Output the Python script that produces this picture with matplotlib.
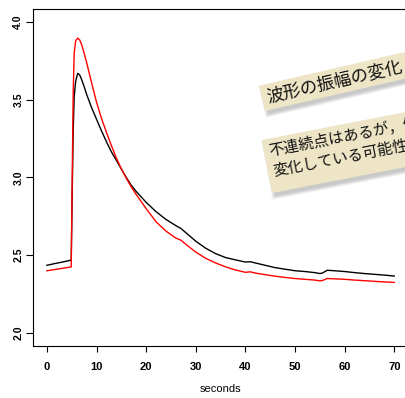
import matplotlib
matplotlib.use("Agg")
import matplotlib.pyplot as plt
from matplotlib.patches import Rectangle
from matplotlib.transforms import Affine2D

# signal (seconds vs amplitude)
seconds = [0, 1, 2, 3, 4, 4.9, 5.1, 5.3, 5.5, 5.8, 6.2, 6.6, 7, 7.5, 8, 9, 10, 11, 12,
           13, 14, 15, 16, 17, 18, 20, 22, 24, 26, 27, 28, 30, 32, 34, 36, 38, 40,
           41, 42, 44, 46, 48, 50, 52, 54, 55, 55.5, 56.5, 58, 60, 62, 64, 66, 68, 70]
black_vals = [2.435, 2.442, 2.449, 2.455, 2.462, 2.468, 2.90, 3.30, 3.52, 3.62, 3.67, 3.66,
              3.63, 3.585, 3.535, 3.45, 3.375, 3.30, 3.23, 3.165, 3.11, 3.055, 3.00, 2.95,
              2.91, 2.84, 2.78, 2.73, 2.69, 2.672, 2.645, 2.59, 2.545, 2.51, 2.485, 2.47,
              2.456, 2.458, 2.45, 2.435, 2.42, 2.41, 2.40, 2.395, 2.388, 2.382, 2.385,
              2.403, 2.40, 2.395, 2.388, 2.382, 2.377, 2.372, 2.366]
red_vals = [2.40, 2.405, 2.41, 2.415, 2.42, 2.425, 3.00, 3.55, 3.80, 3.88, 3.897, 3.885,
            3.855, 3.80, 3.74, 3.61, 3.485, 3.38, 3.29, 3.205, 3.125, 3.055, 2.995, 2.94,
            2.89, 2.80, 2.715, 2.655, 2.61, 2.597, 2.57, 2.52, 2.48, 2.45, 2.425, 2.405,
            2.39, 2.393, 2.385, 2.375, 2.365, 2.357, 2.35, 2.345, 2.34, 2.335, 2.337,
            2.35, 2.348, 2.345, 2.34, 2.336, 2.332, 2.328, 2.325]

x_ticks = [0, 10, 20, 30, 40, 50, 60, 70]
y_ticks = [2.0, 2.5, 3.0, 3.5, 4.0]

note1 = ["波形の振幅の変化"]
note2 = ["不連続点はあるが，傾きが", "変化している可能性がある"]

plt.rcParams["font.family"] = ["Liberation Sans", "DejaVu Sans"]
jp_font = ["Noto Sans CJK JP", "DejaVu Sans"]

fig = plt.figure(figsize=(4.06, 3.98), dpi=100)
ax = fig.add_axes([0.0813, 0.1307, 0.924, 0.8467])

ax.plot(seconds, black_vals, color="black", lw=1.0)
ax.plot(seconds, red_vals, color="#ff0000", lw=1.0)

ax.set_xlim(-2.8, 72.8)
ax.set_ylim(1.916, 4.084)
ax.set_xticks(x_ticks)
ax.set_xticklabels([str(v) for v in x_ticks])
ax.set_yticks(y_ticks)
ax.set_yticklabels([f"{v:.1f}" for v in y_ticks], rotation=90, va="center")
ax.tick_params(axis="x", length=4.3, width=0.8, pad=7, labelsize=8)
ax.tick_params(axis="y", length=5, width=0.8, pad=2, labelsize=7.5)
for lab in ax.get_xticklabels():
    lab.set_fontweight("bold")
for lab in ax.get_yticklabels():
    lab.set_fontweight("bold")
for sp in ax.spines.values():
    sp.set_linewidth(0.8)
ax.set_xlabel("seconds", fontsize=8, labelpad=9)


# ---------------------------------------------------------------------------
# sticky-note annotations (pixel frame, rotated)
# ---------------------------------------------------------------------------


def sticky(x0, y0, angle, height, lines, size, centers, u=5):
    tf = Affine2D().rotate_deg(angle).translate(x0, y0)
    width = 260
    for i in range(5):
        g = i * 0.8
        shadow = Rectangle((2.5 - g, -3.5 - g), width + 2 * g, height + 2 * g,
                           facecolor="#555555", edgecolor="none", alpha=0.07,
                           transform=tf, zorder=5)
        fig.add_artist(shadow)
    box = Rectangle((0, 0), width, height, facecolor="#EDE5C6", edgecolor="none",
                    transform=tf, zorder=6)
    fig.add_artist(box)
    for s, v in zip(lines, centers):
        fig.text(u, v, s, transform=tf, rotation=angle, rotation_mode="anchor",
                 ha="left", va="center", fontsize=size, family=jp_font,
                 color="#111111", zorder=7)


sticky(265, 287, 13, 26, note1, 12.5, [13])
sticky(272, 205, 11, 54, note2, 11, [41.5, 21.5])

fig.savefig("out.png", dpi=100)
